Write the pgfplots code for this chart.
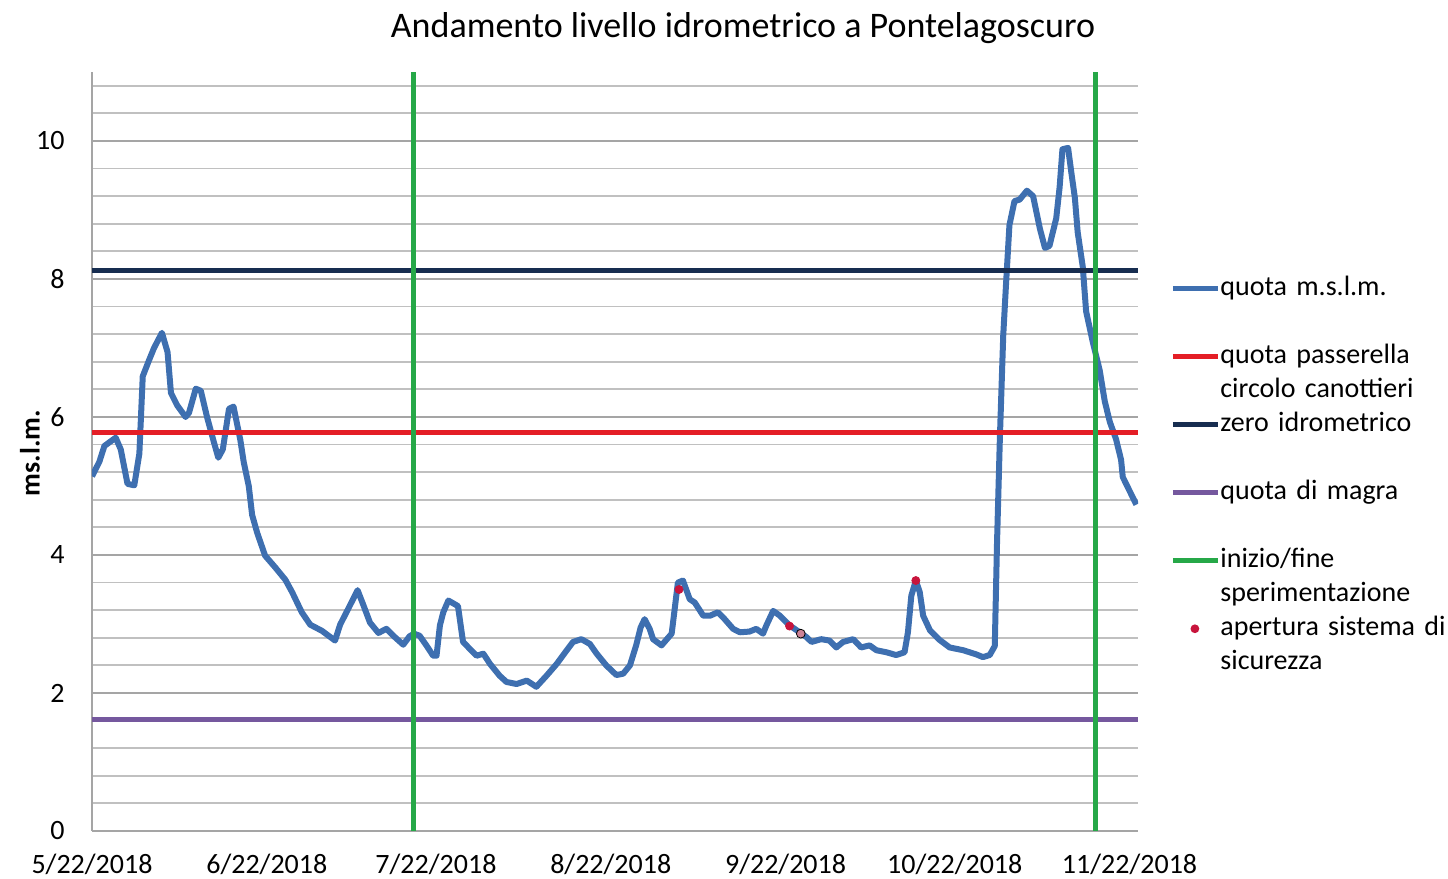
\documentclass[border=0pt]{standalone}
\usepackage{fontspec}
\setmainfont{Carlito}
\usepackage{pgfplots}
\pgfplotsset{compat=1.18}
\definecolor{cblue}{RGB}{62,111,176}
\definecolor{cred}{RGB}{228,30,38}
\definecolor{cnavy}{RGB}{23,45,80}
\definecolor{cpurple}{RGB}{117,88,158}
\definecolor{cgreen}{RGB}{38,168,72}
\definecolor{cdot}{RGB}{200,20,60}
\definecolor{gridmaj}{RGB}{165,165,165}
\definecolor{gridmin}{RGB}{192,192,192}
\begin{document}
\begin{tikzpicture}
\path[use as bounding box] (-46pt,-24pt) rectangle (678pt,415.5pt);
\begin{axis}[
  at={(0,0)}, anchor=south west,
  scale only axis, width=523pt, height=379.5pt,
  xmin=0, xmax=185.5, ymin=0, ymax=11,
  axis x line*=bottom, axis y line*=left,
  axis line style={-, draw=gridmaj, line width=0.9pt},
  xtick={0,31,61,92,123,153,184},
  xticklabels={5/22/2018,6/22/2018,7/22/2018,8/22/2018,9/22/2018,10/22/2018,11/22/2018},
  ytick={0,2,...,10},
  minor ytick={0.4,0.8,...,10.8},
  ymajorgrids, yminorgrids,
  major grid style={draw=gridmaj, line width=0.9pt},
  minor grid style={draw=gridmin, line width=0.9pt},
  major tick length=0pt, minor tick length=0pt,
  tick label style={font=\fontsize{14}{17}\selectfont},
  /pgf/number format/assume math mode=true,
  xticklabel style={anchor=base, yshift=-21.5pt},
  yticklabel style={anchor=east, inner sep=0pt, xshift=-13.5pt},
  title={Andamento livello idrometrico a Pontelagoscuro},
  title style={at={(axis description cs:0.6224,1.029)}, anchor=base, font=\fontsize{18}{22}\selectfont},
  ylabel={ms.l.m.},
  ylabel style={at={(axis description cs:-0.0593,0.498)}, anchor=center, font=\bfseries\fontsize{14}{17}\selectfont},
  legend style={at={(axis description cs:1.0306,0.7376)}, anchor=north west, draw=none, fill=none,
     inner sep=0pt, row sep=0pt, column sep=0pt,
     font=\fontsize{14}{17}\selectfont,
     nodes={anchor=base west, inner sep=0pt, text width=118pt, align=left, text depth={}}},
  legend image code/.code={\draw[#1, line width=2.5pt] (0pt,3.3pt) -- (22.5pt,3.3pt);},
]
\addplot[cblue, line width=3pt, line join=round] coordinates {
(0,5.14) (1.3,5.35) (2.2,5.58) (4.2,5.70) (5.1,5.53) (6.3,5.03) (7.5,5.01) (8.4,5.47)
(9.0,6.59) (10.1,6.82) (11.0,7.00) (12.4,7.22) (13.4,6.94) (14.0,6.35) (15.1,6.17)
(16.6,6.00) (17.2,6.06) (18.4,6.41) (19.3,6.38) (20.4,6.00) (21.6,5.64) (22.4,5.41)
(23.2,5.53) (24.3,6.12) (25.1,6.15) (26.3,5.67) (26.9,5.35) (27.8,5.00) (28.4,4.58)
(29.3,4.32) (30.7,3.99) (32.5,3.82) (34.3,3.64) (35.5,3.46) (37.2,3.17) (38.7,2.99)
(40.8,2.90) (43.1,2.76) (44.0,2.99) (45.5,3.23) (47.1,3.49) (48.1,3.28) (49.3,3.02)
(50.8,2.87) (52.2,2.93) (53.7,2.81) (55.2,2.70) (56.3,2.82) (57.1,2.86) (58.1,2.83)
(59.3,2.69) (60.5,2.54) (61.1,2.54) (61.7,2.98) (62.3,3.17) (63.2,3.34) (64.9,3.26)
(65.8,2.74) (67.0,2.64) (68.2,2.54) (69.4,2.57) (70.6,2.42) (72.3,2.25) (73.5,2.16)
(75.3,2.13) (77.1,2.18) (78.8,2.09) (80.6,2.25) (82.4,2.42) (84.2,2.62) (85.3,2.74)
(86.8,2.78) (88.3,2.71) (89.5,2.57) (91.2,2.40) (93.0,2.26) (94.2,2.28) (95.4,2.40)
(96.5,2.69) (97.3,2.95) (98.0,3.07) (98.9,2.93) (99.5,2.78) (101.0,2.69) (102.8,2.86)
(103.4,3.26) (103.9,3.60) (104.8,3.63) (106.0,3.36) (106.9,3.31) (108.4,3.12) (109.6,3.12)
(111.0,3.17) (112.2,3.07) (113.7,2.93) (114.9,2.88) (116.6,2.89) (117.8,2.93) (119.0,2.86)
(119.6,2.98) (120.8,3.19) (122.0,3.12) (123.7,2.98) (125.5,2.88) (126.7,2.81) (127.6,2.74)
(129.3,2.78) (130.8,2.76) (132.0,2.66) (133.2,2.74) (135.0,2.78) (136.4,2.66) (137.9,2.69)
(139.1,2.62) (140.9,2.59) (142.6,2.55) (144.1,2.59) (144.7,2.88) (145.3,3.41) (146.1,3.63)
(146.8,3.46) (147.4,3.12) (148.6,2.91) (150.3,2.77) (152.1,2.66) (154.5,2.62) (156.8,2.56)
(158.0,2.52) (159.2,2.55) (160.1,2.68) (160.5,4.18) (161.0,5.68) (161.6,7.18) (162.1,7.93)
(162.7,8.78) (163.6,9.13) (164.5,9.15) (165.8,9.28) (166.9,9.20) (168.1,8.73) (169.0,8.45)
(169.8,8.48) (171.0,8.88) (171.6,9.33) (172.1,9.88) (173.1,9.90) (173.7,9.53) (174.3,9.18)
(174.8,8.68) (175.7,8.18) (176.3,7.53) (177.5,7.08) (178.7,6.68) (179.6,6.23) (180.5,5.93)
(181.6,5.68) (182.5,5.38) (182.8,5.13) (184.0,4.93) (185.2,4.73)
};
\addlegendentry{quota m.s.l.m.\strut\\\strut}
\addplot[cred, line width=2.5pt] coordinates {(0,5.78) (185.5,5.78)};
\addlegendentry{quota passerella\strut\\circolo canottieri\strut}
\addplot[cnavy, line width=2.5pt] coordinates {(0,8.12) (185.5,8.12)};
\addlegendentry{zero idrometrico\strut\\\strut}
\addplot[cpurple, line width=2.5pt] coordinates {(0,1.61) (185.5,1.61)};
\addlegendentry{quota di magra\strut\\\strut}
\addplot[cgreen, line width=2.5pt] coordinates {(57.1,0) (57.1,11)};
\addlegendentry{inizio/fine\strut\\sperimentazione\strut}
\addplot[cgreen, line width=2.5pt, forget plot] coordinates {(178.0,0) (178.0,11)};
\addplot[only marks, mark=*, mark size=2pt, cdot, draw=none, fill=cdot,
  legend image code/.code={\fill[cdot] (11pt,3.3pt) circle (2.2pt);}] coordinates {
(104.1,3.50) (123.7,2.97) (146.1,3.63)
};
\addlegendentry{apertura sistema di\strut\\sicurezza\strut}
\addplot[only marks, mark=*, mark size=2.2pt, draw=none, fill={rgb,255:red,205;green,130;blue,150}, forget plot] coordinates {
(125.7,2.86)
};
\end{axis}
\end{tikzpicture}
\end{document}
